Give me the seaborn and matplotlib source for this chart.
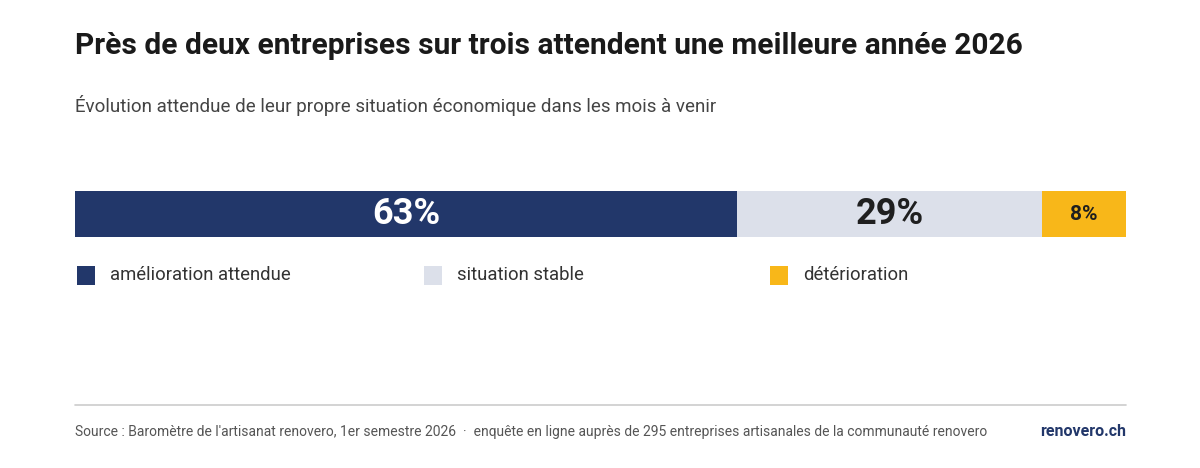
import matplotlib
matplotlib.use("Agg")
import matplotlib.pyplot as plt
import seaborn as sns
import pandas as pd
from matplotlib.patches import Rectangle

categories = ["amélioration attendue", "situation stable", "détérioration"]
values = [63, 29, 8]
colors = ["#22376A", "#DCE0EA", "#F8B719"]
label_colors = ["white", "#1f1f1f", "#1f1f1f"]
label_sizes = [26, 26, 15]

sns.set_style("white")
plt.rcParams["font.family"] = ["Roboto", "DejaVu Sans"]

W, H = 1200, 468
fig = plt.figure(figsize=(12, 4.68), dpi=100)
fig.patch.set_facecolor("white")

fig.text(75 / W, 1 - 46 / H, "Près de deux entreprises sur trois attendent une meilleure année 2026",
         fontsize=21.5, fontweight="bold", color="#1a1a1a", va="center")
fig.text(75 / W, 1 - 105 / H, "Évolution attendue de leur propre situation économique dans les mois à venir",
         fontsize=13.5, color="#444444", va="center")

ax = fig.add_axes([75 / W, 1 - 237 / H, 1051 / W, 46 / H])
cum = pd.Series(values).cumsum()
df = pd.DataFrame({"cat": categories, "end": cum, "start": cum - pd.Series(values)})
# draw from full length down so shorter segments overlay
for i in reversed(range(len(df))):
    sns.barplot(x=[df["end"][i]], y=[0], orient="h", color=colors[i], width=1.0,
                ax=ax, saturation=1, linewidth=0)
for i in range(len(df)):
    mid = df["start"][i] + values[i] / 2
    ax.text(mid, 0, f"{values[i]}%", ha="center", va="center", fontsize=label_sizes[i],
            fontweight="bold", color=label_colors[i])
ax.set_xlim(0, 100)
ax.set_ylim(-0.5, 0.5)
ax.axis("off")

# legend
leg_x = [77, 424, 770]
for x, c, lab in zip(leg_x, colors, categories):
    fig.patches.append(Rectangle((x / W, 1 - 285 / H), 18 / W, 19 / H, transform=fig.transFigure,
                                 facecolor=c, edgecolor="none"))
    fig.text((x + 33) / W, 1 - 275 / H, lab, fontsize=13.3, color="#333333", va="center")

# footer
fig.add_artist(plt.Line2D([75 / W, 1126 / W], [1 - 405 / H] * 2, transform=fig.transFigure,
                          color="#cccccc", linewidth=1.2))
fig.text(75 / W, 1 - 432 / H,
         "Source : Baromètre de l'artisanat renovero, 1er semestre 2026  ·  enquête en ligne auprès de 295 entreprises artisanales de la communauté renovero",
         fontsize=10.0, color="#555555", va="center")
fig.text(1126 / W, 1 - 432 / H, "renovero.ch", fontsize=11.5, fontweight="bold", color="#22376A",
         va="center", ha="right")

fig.savefig("out.png", dpi=100)
